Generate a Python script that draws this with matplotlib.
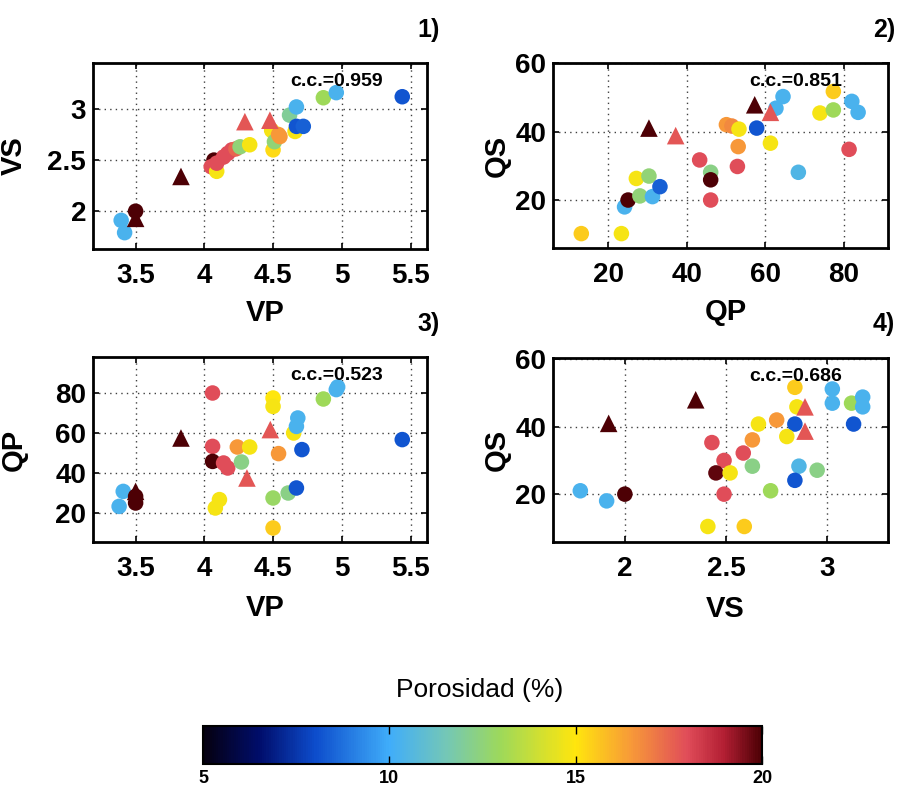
import numpy as np
import matplotlib
matplotlib.use('Agg')
import matplotlib.pyplot as plt
from matplotlib.colors import LinearSegmentedColormap, Normalize

plt.rcParams['font.family'] = ['Liberation Sans', 'DejaVu Sans']

# ---------------- data ----------------
# Panel 1: VP vs VS
p1_circ_x = [3.395, 3.42, 3.50, 4.07, 4.05, 4.09, 4.09, 4.14, 4.17, 4.20, 4.23, 4.26, 4.33,
             4.49, 4.50, 4.51, 4.55, 4.54, 4.62, 4.66, 4.67, 4.72, 4.67, 4.866, 4.96, 5.44]
p1_circ_y = [1.91, 1.79, 2.00, 2.50, 2.435, 2.39, 2.47, 2.53, 2.565, 2.60, 2.61, 2.63, 2.65,
             2.79, 2.60, 2.68, 2.73, 2.75, 2.94, 2.78, 2.83, 2.83, 3.02, 3.11, 3.16, 3.12]
p1_circ_p = [10.3, 10.3, 20.0, 20.0, 18.0, 14.8, 18.0, 18.0, 18.0, 18.0, 17.5, 12.5, 14.8,
             14.8, 15.2, 12.5, 16.5, 16.5, 12.0, 14.8, 8.2, 8.4, 10.3, 13.0, 10.3, 8.2]
p1_tri_x = [3.50, 3.83, 4.295, 4.477]
p1_tri_y = [1.93, 2.34, 2.876, 2.89]
p1_tri_p = [20.0, 20.0, 17.8, 17.8]

# Panel 2: QP vs QS
p2_circ_x = [13.2, 23.4, 24.2, 25.1, 27.2, 28.1, 30.4, 31.3, 33.2, 43.3, 46.1, 46.1, 46.1,
             50.1, 51.5, 53.3, 53.1, 52.9, 57.8, 62.7, 64.5, 61.3, 68.4, 73.9, 77.3, 77.3,
             81.3, 82.0, 83.6]
p2_circ_y = [10.2, 10.2, 18.0, 20.0, 26.3, 21.2, 27.0, 21.0, 23.9, 31.7, 28.1, 25.9, 20.0,
             42.0, 41.6, 40.7, 35.6, 29.8, 41.0, 46.8, 50.2, 36.6, 28.1, 45.4, 51.7, 46.3,
             34.8, 48.8, 45.6]
p2_circ_p = [15.5, 14.8, 10.3, 20.0, 14.8, 12.5, 12.5, 10.3, 8.4, 18.0, 12.3, 20.0, 18.0,
             16.5, 16.8, 14.8, 16.5, 18.0, 8.2, 10.3, 10.3, 14.8, 10.5, 14.8, 15.5, 13.0,
             18.0, 10.3, 10.3]
p2_tri_x = [30.4, 37.2, 57.3, 61.3]
p2_tri_y = [41.0, 38.8, 47.8, 45.6]
p2_tri_p = [20.0, 17.8, 20.0, 17.8]

# Panel 3: VP vs QP
p3_circ_x = [3.41, 3.38, 3.50, 3.50, 4.06, 4.06, 4.06, 4.14, 4.17, 4.24, 4.33, 4.27, 4.11,
             4.08, 4.50, 4.50, 4.54, 4.50, 4.50, 4.61, 4.67, 4.71, 4.65, 4.67, 4.68, 4.866,
             4.96, 4.97, 5.44]
p3_circ_y = [30.8, 23.3, 28.3, 25.0, 80.0, 53.3, 45.8, 45.0, 42.5, 53.0, 53.0, 45.5, 26.7,
             22.5, 77.5, 73.3, 49.7, 27.5, 12.5, 30.0, 32.5, 51.7, 60.0, 63.3, 67.5, 77.0,
             81.7, 83.0, 56.7]
p3_circ_p = [10.3, 10.3, 20.0, 20.0, 18.0, 18.0, 20.0, 18.0, 18.0, 16.5, 14.8, 12.3, 14.8,
             14.8, 15.0, 14.8, 16.5, 12.8, 15.5, 12.3, 8.2, 8.2, 14.8, 10.3, 10.3, 13.0,
             10.3, 10.3, 8.2]
p3_tri_x = [3.50, 3.83, 4.31, 4.48]
p3_tri_y = [30.8, 57.5, 37.5, 61.7]
p3_tri_p = [20.0, 20.0, 17.8, 17.8]

# Panel 4: VS vs QS
p4_circ_x = [1.78, 1.91, 2.00, 2.43, 2.49, 2.45, 2.52, 2.49, 2.41, 2.59, 2.585, 2.63, 2.63,
             2.66, 2.75, 2.72, 2.86, 2.84, 2.84, 2.80, 2.84, 2.85, 2.95, 3.025, 3.025, 3.12,
             3.175, 3.175, 3.13]
p4_circ_y = [21.0, 18.0, 20.0, 35.3, 30.0, 26.3, 26.3, 20.0, 10.4, 10.4, 32.2, 36.1, 28.3,
             40.8, 42.0, 21.0, 28.3, 24.1, 40.8, 37.1, 51.7, 45.9, 27.1, 51.2, 47.0, 47.0,
             48.8, 45.9, 40.8]
p4_circ_p = [10.3, 10.3, 20.0, 18.0, 18.0, 19.8, 14.8, 18.0, 14.8, 15.5, 18.0, 16.5, 12.3,
             14.8, 16.5, 13.0, 10.5, 8.2, 8.2, 14.8, 15.5, 14.8, 12.3, 10.3, 10.3, 13.0,
             10.3, 10.3, 8.2]
p4_tri_x = [1.92, 2.35, 2.89, 2.89]
p4_tri_y = [41.0, 48.0, 45.9, 38.7]
p4_tri_p = [20.0, 20.0, 17.8, 17.8]

cc_values = ['0.959', '0.851', '0.523', '0.686']
cbar_ticks = [5, 10, 15, 20]

# ---------------- colormap ----------------
nodes = [(5, (0.02, 0.0, 0.06)), (6.5, (0.0, 0.05, 0.42)), (8, (0.05, 0.30, 0.80)),
         (10, (0.25, 0.68, 0.98)), (11.5, (0.45, 0.78, 0.72)), (13, (0.62, 0.85, 0.35)),
         (15, (1.0, 0.90, 0.05)), (16.5, (0.97, 0.60, 0.22)), (18, (0.88, 0.30, 0.35)),
         (19, (0.70, 0.12, 0.20)), (20, (0.30, 0.0, 0.02))]
cmap = LinearSegmentedColormap.from_list(
    'poro', [((v - 5) / 15.0, c) for v, c in nodes])
norm = Normalize(vmin=5, vmax=20)

W, H = 907, 791
fig = plt.figure(figsize=(W / 100, H / 100), dpi=100)


def rect(l, r, t, b):
    return [l / W, 1 - b / H, (r - l) / W, (b - t) / H]


def panel(box, cx, cy, cp, tx, ty, tp, xlim, ylim, xticks, xtl, yticks, ytl,
          xlabel, ylabel, ylab_x, xlab_y, cc, cc_x, tag, tagpos):
    ax = fig.add_axes(rect(*box))
    ax.scatter(cx, cy, c=cp, cmap=cmap, norm=norm, s=125, marker='o',
               edgecolors='none', zorder=3)
    ax.scatter(tx, ty, c=tp, cmap=cmap, norm=norm, s=160, marker='^',
               edgecolors='none', zorder=4)
    ax.set_xlim(*xlim)
    ax.set_ylim(*ylim)
    ax.set_xticks(xticks)
    ax.set_xticklabels(xtl)
    ax.set_yticks(yticks)
    ax.set_yticklabels(ytl)
    ax.grid(True, linestyle=(0, (1, 3)), color='0.25', linewidth=1.0, zorder=0)
    ax.set_axisbelow(True)
    ax.tick_params(direction='in', top=True, right=True, length=4, width=1.2,
                   labelsize=20)
    ax.tick_params(axis='x', pad=10)
    ax.tick_params(axis='y', pad=5)
    for lab in ax.get_xticklabels() + ax.get_yticklabels():
        lab.set_fontweight('bold')
    for s in ax.spines.values():
        s.set_linewidth(2.0)
    ax.set_xlabel(xlabel, fontsize=21, fontweight='bold')
    ax.set_ylabel(ylabel, fontsize=21, fontweight='bold')
    ax.yaxis.set_label_coords(ylab_x, 0.5)
    ax.xaxis.set_label_coords(0.515, xlab_y)
    ax.text(cc_x, 0.9, 'c.c.=' + cc, transform=ax.transAxes, ha='left',
            va='center', fontsize=14, fontweight='bold', zorder=6)
    fig.text(tagpos[0] / W, 1 - tagpos[1] / H, tag, ha='right', va='center',
             fontsize=18, fontweight='bold')
    return ax


panel((93, 427, 63, 249), p1_circ_x, p1_circ_y, p1_circ_p, p1_tri_x, p1_tri_y, p1_tri_p,
      (3.19, 5.62), (1.63, 3.45), [3.5, 4, 4.5, 5, 5.5], ['3.5', '4', '4.5', '5', '5.5'],
      [2, 2.5, 3], ['2', '2.5', '3'], 'VP', 'VS', -0.195, -0.27, cc_values[0], 0.59,
      '1)', (440, 30))
panel((553, 888, 63, 248), p2_circ_x, p2_circ_y, p2_circ_p, p2_tri_x, p2_tri_y, p2_tri_p,
      (6.0, 91.2), (6.0, 60.0), [20, 40, 60, 80], ['20', '40', '60', '80'],
      [20, 40, 60], ['20', '40', '60'], 'QP', 'QS', -0.125, -0.27, cc_values[1], 0.585,
      '2)', (895, 30))
panel((93, 427, 357, 542), p3_circ_x, p3_circ_y, p3_circ_p, p3_tri_x, p3_tri_y, p3_tri_p,
      (3.19, 5.62), (5.5, 98.0), [3.5, 4, 4.5, 5, 5.5], ['3.5', '4', '4.5', '5', '5.5'],
      [20, 40, 60, 80], ['20', '40', '60', '80'], 'VP', 'QP', -0.195, -0.28, cc_values[2], 0.59,
      '3)', (440, 324))
panel((553, 888, 358, 542), p4_circ_x, p4_circ_y, p4_circ_p, p4_tri_x, p4_tri_y, p4_tri_p,
      (1.645, 3.30), (5.8, 60.4), [2, 2.5, 3], ['2', '2.5', '3'],
      [20, 40, 60], ['20', '40', '60'], 'VS', 'QS', -0.125, -0.29, cc_values[3], 0.585,
      '4)', (895, 324))

# ---------------- colorbar ----------------
cax = fig.add_axes(rect(203, 762, 726, 764))
sm = matplotlib.cm.ScalarMappable(norm=norm, cmap=cmap)
cb = fig.colorbar(sm, cax=cax, orientation='horizontal', ticks=cbar_ticks)
cb.ax.set_xticklabels([str(t) for t in cbar_ticks], fontsize=13, fontweight='bold')
cb.ax.tick_params(direction='in', top=True, bottom=True, length=6, width=1, pad=4)
cb.outline.set_linewidth(1.5)
fig.text(480 / W, 1 - 690 / H, 'Porosidad (%)', ha='center', va='center', fontsize=19)

fig.savefig('out.png', dpi=100)
